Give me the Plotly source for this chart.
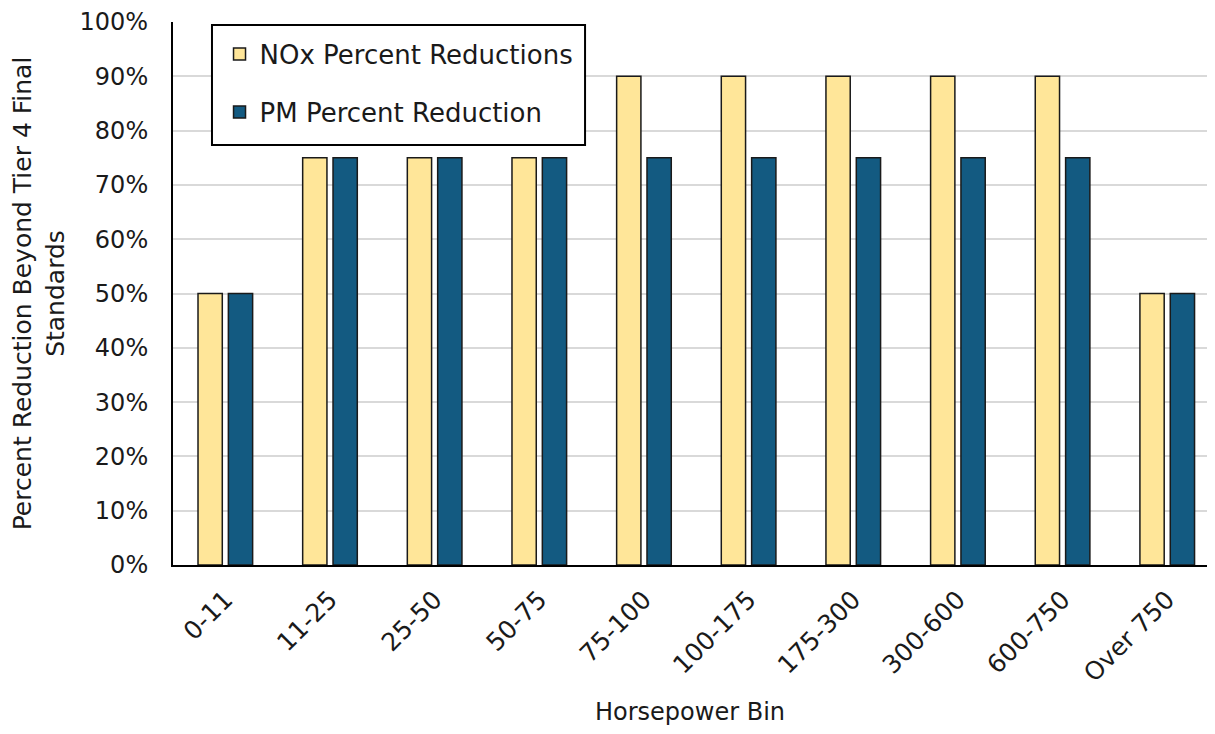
import plotly.graph_objects as go

categories = ["0-11", "11-25", "25-50", "50-75", "75-100", "100-175", "175-300", "300-600", "600-750", "Over 750"]
nox = [0.50, 0.75, 0.75, 0.75, 0.90, 0.90, 0.90, 0.90, 0.90, 0.50]
pm = [0.50, 0.75, 0.75, 0.75, 0.75, 0.75, 0.75, 0.75, 0.75, 0.50]
y_ticks = [0, 0.1, 0.2, 0.3, 0.4, 0.5, 0.6, 0.7, 0.8, 0.9, 1.0]
y_tick_text = ["0%", "10%", "20%", "30%", "40%", "50%", "60%", "70%", "80%", "90%", "100%"]

FONT = "DejaVu Sans"
TXT = "#1a1a1a"

fig = go.Figure()
fig.add_trace(go.Bar(x=categories, y=nox, name="NOx Percent Reductions",
                     marker=dict(color="#FFE699", line=dict(color="#1a1a1a", width=1.5)),
                     legendgroup="a"))
fig.add_trace(go.Bar(x=categories, y=pm, name="PM Percent Reduction",
                     marker=dict(color="#135A81", line=dict(color="#1a1a1a", width=1.5)),
                     legendgroup="b"))

# legend frame
fig.add_shape(type="rect", xref="paper", yref="paper", x0=0.0377, x1=0.3985, y0=0.7735, y1=0.9945,
              line=dict(color="black", width=2), fillcolor="white", layer="above")

fig.update_layout(
    width=1199, height=718,
    margin=dict(l=165, r=0, t=14, b=161),
    paper_bgcolor="white", plot_bgcolor="white",
    font=dict(family=FONT, size=23, color=TXT),
    barmode="group", bargap=0.42, bargroupgap=0.2,
    showlegend=True,
    legend=dict(x=0.045, y=0.984, xanchor="left", yanchor="top",
                bgcolor="rgba(0,0,0,0)", borderwidth=0,
                font=dict(family=FONT, size=26, color=TXT),
                tracegroupgap=21, itemwidth=30),
    xaxis=dict(type="category", range=[-0.5, 9.38], tickangle=-45, showline=True,
               linecolor="black", linewidth=2,
               ticks="", tickfont=dict(size=25), automargin=False, ticklabelstandoff=8,
               title=dict(text="Horsepower Bin", font=dict(size=24), standoff=28)),
    yaxis=dict(range=[0, 1], tickvals=y_ticks, ticktext=y_tick_text, showline=True,
               linecolor="black", linewidth=2,
               showgrid=True, gridcolor="#d9d9d9", gridwidth=1.5, ticks="", zeroline=False,
               tickfont=dict(size=24), ticklabelstandoff=18, automargin=False,
               title=dict(text="Percent Reduction Beyond Tier 4 Final<br>Standards", font=dict(size=25), standoff=17)),
)

fig.write_html("out.html")
